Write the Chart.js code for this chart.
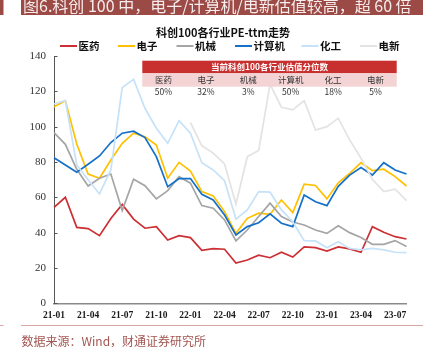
<!DOCTYPE html>
<html>
<head>
<meta charset="utf-8">
<script src="https://cdn.jsdelivr.net/npm/chart.js@4.4.0/dist/chart.umd.min.js"></script>
<style>
  html, body { margin: 0; padding: 0; background: #fff; }
  #wrap { position: relative; width: 443px; height: 359px; overflow: hidden; }
  canvas { display: block; }
</style>
</head>
<body>
<div id="wrap"><canvas id="c" width="443" height="359"></canvas></div>
<script>
// ── Данные ──────────────────────────────────────────────────────────────
const months = [
  '21-01','21-02','21-03','21-04','21-05','21-06','21-07','21-08','21-09','21-10','21-11','21-12',
  '22-01','22-02','22-03','22-04','22-05','22-06','22-07','22-08','22-09','22-10','22-11','22-12',
  '23-01','23-02','23-03','23-04','23-05','23-06','23-07','23-08'
];
const seriesNames = ['医药', '电子', '机械', '计算机', '化工', '电新'];
const pharma = [54.3, 60, 43, 42.3, 38.3, 48, 56, 47.7, 42.5, 43.4, 35.8, 38.3, 37.2, 30, 30.9, 30.6,
  22.8, 24.5, 27.2, 25.8, 28.9, 26.2, 31.9, 31.5, 29.6, 31.9, 30.8, 28.9, 43.4, 40.2, 37.7, 36.4];
const electronics = [111.3, 114.7, 90.2, 73.2, 70.8, 81.1, 90.6, 96.3, 94.3, 89.6, 70.8, 79.8, 74.9, 63.2, 60.8, 51.9,
  39.6, 48.1, 51, 50.4, 58.5, 51.3, 67.4, 66.7, 59.1, 68.2, 73.6, 79.6, 75.1, 75.9, 71.7, 66.4];
const machinery = [96.6, 90, 75.9, 66.4, 70.8, 73.2, 52.5, 70.2, 66.6, 59.1, 63.8, 71.7, 68, 55.3, 53.8, 47.2,
  35.3, 41.5, 49.1, 56.7, 49.1, 46, 44.3, 41.5, 39.6, 43.9, 40, 37.2, 33.4, 33.4, 35.5, 32.1];
const computer = [82.4, 78.3, 74.2, 78.7, 83.4, 91, 96.3, 97.4, 93.8, 83, 66, 70.6, 70.6, 61.7, 58.5, 50,
  38.7, 43.4, 45.6, 50.6, 45.3, 43.4, 61.3, 57.5, 55.3, 66.2, 72.6, 76.8, 72.6, 79.6, 75.5, 73.2];
const chemicals = [112.8, 114.7, 78.3, 70, 61.9, 75.5, 122.2, 126.8, 110.4, 99.1, 90.6, 103.4, 96.3, 79.6, 75.5, 69.4,
  47.7, 52.9, 63.2, 62.9, 52.9, 46.2, 35.5, 35.3, 31.5, 34.9, 31.1, 30.2, 31.1, 30.2, 28.9, 28.7];
const newEnergy = [null, null, null, null, null, null, null, null, null, null, null, null,
  102.3, 89.3, 85, 78.9, 56.2, 83, 86.5, 124, 111, 109.5, 114.7, 98.1, 100, 104.8, 92.5, 82.1, 70.2, 63.2, 64.6, 58.1];
const percentiles = ['50%', '32%', '3%', '50%', '18%', '5%'];
const yTicks = [0, 20, 40, 60, 80, 100, 120, 140];

const colors = ['#cc2f34', '#ffc000', '#a5a5a5', '#1470c8', '#c6e2f8', '#e3e3e3'];
const allSeries = [pharma, electronics, machinery, computer, chemicals, newEnergy];

const CJK = "'Noto Sans CJK SC', 'Noto Sans', sans-serif";
const SERIF = "'Liberation Serif', 'DejaVu Serif', serif";

// ── Оформление: шапка, заголовок, легенда, подвал ──────────────────────
const framePlugin = {
  id: 'frame',
  beforeDraw(chart) {
    const ctx = chart.ctx;
    ctx.save();
    // шапка
    ctx.fillStyle = '#9b4a45';
    ctx.fillRect(0, 0, 3.5, 15);
    ctx.fillRect(21, 0, 402, 15);
    ctx.fillStyle = '#f6ecec';
    ctx.font = `16px ${CJK}`;
    ctx.textBaseline = 'alphabetic';
    ctx.textAlign = 'left';
    ctx.fillText('图6.科创 100 中，电子/计算机/电新估值较高，超 60 倍', 23, 12);

    // заголовок
    ctx.fillStyle = '#111';
    ctx.font = `bold 11px ${CJK}`;
    ctx.textAlign = 'center';
    ctx.textBaseline = 'middle';
    ctx.fillText('科创100各行业PE-ttm走势', 223, 32.5);

    // легенда
    const legendX = [60, 118, 176.5, 235, 301.5, 360];
    ctx.font = `bold 10.5px ${CJK}`;
    ctx.textAlign = 'left';
    chart.data.datasets.forEach((ds, i) => {
      const x = legendX[i];
      ctx.strokeStyle = ds.borderColor;
      ctx.lineWidth = 2;
      ctx.beginPath();
      ctx.moveTo(x, 46);
      ctx.lineTo(x + 17, 46);
      ctx.stroke();
      ctx.fillStyle = '#111';
      ctx.fillText(ds.label, x + 18.5, 46.5);
    });

    // подвал
    ctx.strokeStyle = '#dba7a5';
    ctx.lineWidth = 1;
    ctx.beginPath();
    ctx.moveTo(0, 325.5); ctx.lineTo(3.5, 325.5);
    ctx.moveTo(21, 325.5); ctx.lineTo(423, 325.5);
    ctx.stroke();
    ctx.fillStyle = '#a35551';
    ctx.font = `12px ${CJK}`;
    ctx.textBaseline = 'middle';
    ctx.fillText('数据来源：Wind，财通证券研究所', 21.5, 341.5);
    ctx.restore();
  },
  afterDraw(chart) {
    const ctx = chart.ctx;
    const y = chart.scales.y;
    ctx.save();
    // внутренние риски оси Y
    ctx.strokeStyle = '#555';
    ctx.lineWidth = 1;
    yTicks.forEach(v => {
      const py = Math.round(y.getPixelForValue(v)) + 0.5;
      ctx.beginPath();
      ctx.moveTo(y.right, py);
      ctx.lineTo(y.right + 3.5, py);
      ctx.stroke();
    });

    // таблица процентилей поверх линий
    const tx = 142.3, tw = 254.4, colW = tw / 6;
    ctx.fillStyle = '#c8302f';
    ctx.fillRect(tx, 60.7, tw, 12.6);
    ctx.fillStyle = '#f4d3d5';
    ctx.fillRect(tx, 73.3, tw, 13.4);
    ctx.fillStyle = '#fff';
    ctx.font = `bold 8.5px ${CJK}`;
    ctx.textAlign = 'center';
    ctx.textBaseline = 'middle';
    ctx.fillText('当前科创100各行业估值分位数', tx + tw / 2, 67.2);
    ctx.font = `8.5px ${CJK}`;
    ctx.fillStyle = '#333';
    seriesNames.forEach((name, i) => {
      const cx = tx + colW * (i + 0.5);
      ctx.fillText(name, cx, 80.2);
      ctx.fillText(percentiles[i], cx, 91.8);
    });
    ctx.restore();
  }
};

new Chart(document.getElementById('c'), {
  type: 'line',
  data: {
    labels: months,
    datasets: allSeries.map((data, i) => ({
      label: seriesNames[i],
      data,
      borderColor: colors[i],
      backgroundColor: colors[i],
      borderWidth: 1.7,
      pointRadius: 0,
      tension: 0,
      spanGaps: false,
      order: 6 - i,
    })),
  },
  options: {
    responsive: false,
    devicePixelRatio: 1,
    animation: false,
    layout: { padding: { left: 0, top: 56, right: 36.5, bottom: 35.7 } },
    plugins: {
      legend: { display: false },
      title: { display: false },
      tooltip: { enabled: false },
    },
    scales: {
      x: {
        offset: false,
        grid: { display: false, drawTicks: false },
        border: { color: '#8a8a8a', width: 1.6 },
        ticks: {
          autoSkip: false,
          maxRotation: 0,
          padding: 7,
          color: '#1a1a1a',
          font: { family: SERIF, size: 9.5, weight: 'bold' },
          callback: (v, i) => (i % 3 === 0 ? months[i] : null),
        },
        afterFit: s => { s.height = 20; },
      },
      y: {
        min: 0,
        max: 140,
        grid: { display: false, drawTicks: false },
        border: { color: '#555', width: 1 },
        ticks: {
          stepSize: 20,
          padding: 8,
          color: '#333',
          font: { family: SERIF, size: 11 },
        },
        afterFit: s => { s.width = 54; },
      },
    },
  },
  plugins: [framePlugin],
});
</script>
</body>
</html>
